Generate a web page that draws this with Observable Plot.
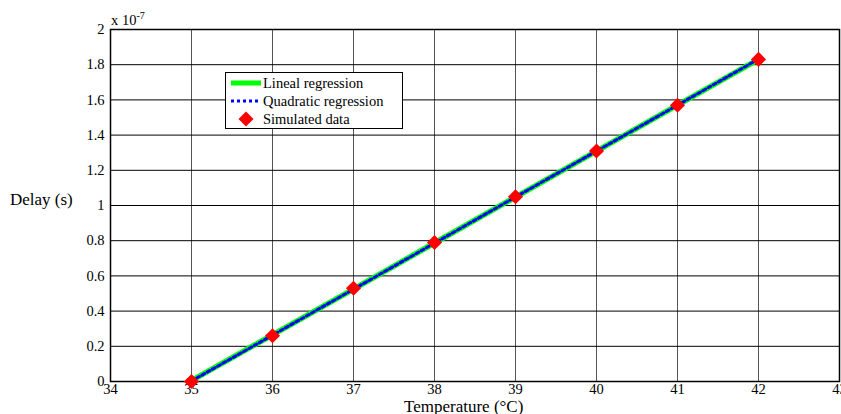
<!DOCTYPE html>
<html>
<head>
<meta charset="utf-8">
<script src="https://cdn.jsdelivr.net/npm/d3@7"></script>
<script src="https://cdn.jsdelivr.net/npm/@observablehq/plot@0.6"></script>
<style>
  body { margin: 0; background: #fff; }
  #wrap { position: relative; width: 841px; height: 414px; overflow: hidden; font-family: "Liberation Serif", "Times New Roman", serif; color: #000; }
  .lbl { position: absolute; font-size: 14px; white-space: nowrap; line-height: 1; }
  #legend { position: absolute; left: 225px; top: 72px; width: 176px; height: 55px; border: 1px solid #000; background: #fff; }
  #legend .row { position: absolute; left: 37px; font-size: 14.5px; line-height: 1; white-space: nowrap; }
</style>
</head>
<body>
<div id="wrap"></div>
<script>
// Temperature (°C)
const temperature = [35, 36, 37, 38, 39, 40, 41, 42];
// Delay in units of 1e-7 s
const simulated = [0, 0.26, 0.53, 0.79, 1.05, 1.31, 1.57, 1.83];
const linealFit = [0.005, 0.265, 0.525, 0.787, 1.048, 1.309, 1.57, 1.83];
const quadraticFit = [0.003, 0.263, 0.524, 0.786, 1.048, 1.309, 1.57, 1.832];
const xTicks = [34, 35, 36, 37, 38, 39, 40, 41, 42, 43];
const yTicks = [0, 0.2, 0.4, 0.6, 0.8, 1, 1.2, 1.4, 1.6, 1.8, 2];

const rows = temperature.map((t, i) => ({t, sim: simulated[i], lin: linealFit[i], quad: quadraticFit[i]}));

const chart = Plot.plot({
  width: 841,
  height: 414,
  marginLeft: 110,
  marginRight: 2,
  marginTop: 29,
  marginBottom: 33,
  style: {fontFamily: "'Liberation Serif', 'Times New Roman', serif", fontSize: "14px", color: "#000", background: "#fff"},
  x: {domain: [34, 43], ticks: xTicks, label: null},
  y: {domain: [0, 2], ticks: yTicks, label: null},
  marks: [
    Plot.gridX(xTicks, {stroke: "#555", strokeOpacity: 1, strokeWidth: 1}),
    Plot.gridY(yTicks, {stroke: "#000", strokeOpacity: 1, strokeWidth: 1}),
    Plot.axisX(xTicks, {tickSize: 0, tickPadding: 2, fontSize: 14.5, tickFormat: d => String(d)}),
    Plot.axisY(yTicks, {tickSize: 0, tickPadding: 6, fontSize: 14.5, tickFormat: d => String(+d.toFixed(1))}),
    Plot.frame({stroke: "#000", strokeWidth: 1.5}),
    Plot.line(rows, {x: "t", y: "lin", stroke: "#00ff00", strokeWidth: 5.5}),
    Plot.line(rows, {x: "t", y: "quad", stroke: "#0000ff", strokeWidth: 3, strokeDasharray: "3,3"}),
    Plot.dot(rows, {x: "t", y: "sim", symbol: "diamond2", r: 6.8, fill: "#ff0000", stroke: "none"})
  ]
});

const wrap = document.getElementById("wrap");
wrap.appendChild(chart);

function addLabel(html, left, top, size) {
  const d = document.createElement("div");
  d.className = "lbl";
  d.innerHTML = html;
  d.style.left = left + "px";
  d.style.top = top + "px";
  if (size) d.style.fontSize = size + "px";
  wrap.appendChild(d);
  return d;
}
addLabel('x 10<sup style="font-size:10px;vertical-align:6px">-7</sup>', 111, 11, 14.5);
addLabel('Delay (s)', 10, 191, 17);
addLabel('Temperature (°C)', 404, 398, 17);

const legend = document.createElement("div");
legend.id = "legend";
legend.innerHTML = `
<svg width="36" height="55" style="position:absolute;left:0;top:0">
  <line x1="5" x2="35" y1="10" y2="10" stroke="#00ff00" stroke-width="5"/>
  <line x1="5" x2="35" y1="28" y2="28" stroke="#0000ff" stroke-width="3" stroke-dasharray="3,3"/>
  <path d="M20,38.5 L27.5,46 L20,53.5 L12.5,46 Z" fill="#ff0000"/>
</svg>
<div class="row" style="top:3px">Lineal regression</div>
<div class="row" style="top:21px">Quadratic regression</div>
<div class="row" style="top:39px">Simulated data</div>`;
wrap.appendChild(legend);
</script>
</body>
</html>
